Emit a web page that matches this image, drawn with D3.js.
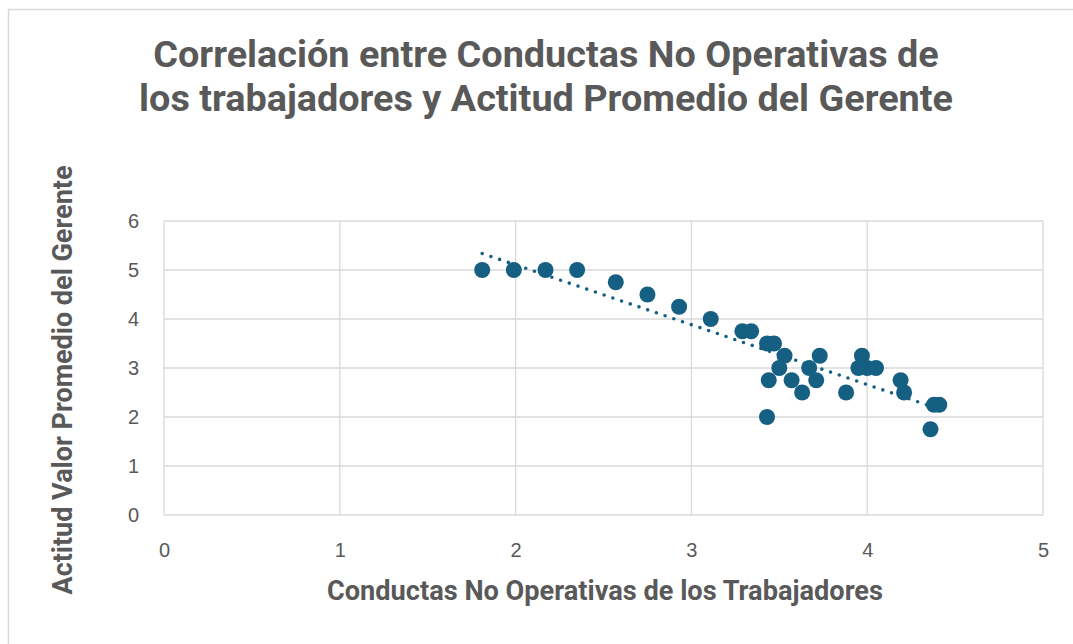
<!DOCTYPE html>
<html><head><meta charset="utf-8">
<script src="https://cdn.jsdelivr.net/npm/d3@7"></script>
<style>html,body{margin:0;padding:0;background:#fff;overflow:hidden}</style>
</head><body>
<svg id="c" width="1073" height="644"></svg>
<script>
const titleLines = ["Correlación entre Conductas No Operativas de", "los trabajadores y Actitud Promedio del Gerente"];
const xTitle = "Conductas No Operativas de los Trabajadores";
const yTitle = "Actitud Valor Promedio del Gerente";
const xTicks = [0,1,2,3,4,5];
const yTicks = [0,1,2,3,4,5,6];
const conductas = [1.81,1.99,2.17,2.35,2.57,2.75,2.93,3.11,3.29,3.34,3.43,3.47,3.53,3.73,3.50,3.67,3.44,3.57,3.71,3.63,3.88,3.43,3.97,3.95,4.00,4.05,4.19,4.21,4.38,4.41,4.36];
const actitud   = [5,5,5,5,4.75,4.5,4.25,4.0,3.75,3.75,3.5,3.5,3.25,3.25,3.0,3.0,2.75,2.75,2.75,2.5,2.5,2.0,3.25,3.0,3.0,3.0,2.75,2.5,2.25,2.25,1.75];

const svg = d3.select("#c");
const col = "#156082", txt = "#595959", grid = "#d9d9d9";
const L = 164, R = 1043, T = 221, B = 515;
const x = d3.scaleLinear().domain([0,5]).range([L,R]);
const y = d3.scaleLinear().domain([0,6]).range([B,T]);

svg.append("rect").attr("x",8.5).attr("y",9.5).attr("width",1200).attr("height",800)
  .attr("fill","#fff").attr("stroke",grid).attr("stroke-width",1.5);

// gridlines
svg.append("g").selectAll("line.h").data(yTicks).join("line")
  .attr("x1",L).attr("x2",R).attr("y1",d=>y(d)).attr("y2",d=>y(d))
  .attr("stroke",grid).attr("stroke-width",1.3);
svg.append("g").selectAll("line.v").data(xTicks).join("line")
  .attr("y1",T).attr("y2",B).attr("x1",d=>x(d)).attr("x2",d=>x(d))
  .attr("stroke",grid).attr("stroke-width",1.3);

// axes labels via d3 axes
const gx = svg.append("g").attr("transform",`translate(0,${B})`)
  .call(d3.axisBottom(x).tickValues(xTicks).tickSize(0).tickPadding(28).tickFormat(d3.format("d")));
const gy = svg.append("g").attr("transform",`translate(${L},0)`)
  .call(d3.axisLeft(y).tickValues(yTicks).tickSize(0).tickPadding(25).tickFormat(d3.format("d")));
[gx,gy].forEach(g=>{
  g.select(".domain").remove();
  g.selectAll("text").attr("fill",txt).style("font-family","'Liberation Sans',Arial,sans-serif").style("font-size","20px");
});

// trendline (least squares)
const n = conductas.length;
const mx = d3.mean(conductas), my = d3.mean(actitud);
let sxy=0,sxx=0;
for(let i=0;i<n;i++){sxy+=(conductas[i]-mx)*(actitud[i]-my);sxx+=(conductas[i]-mx)**2;}
const slope = sxy/sxx, icpt = my - slope*mx;
const [x0,x1] = d3.extent(conductas);
svg.append("line").attr("x1",x(x0)).attr("y1",y(icpt+slope*x0)).attr("x2",x(x1)).attr("y2",y(icpt+slope*x1))
  .attr("stroke",col).attr("stroke-width",3.6).attr("stroke-linecap","round").attr("stroke-dasharray","0 9.2");

// points
svg.append("g").selectAll("circle").data(conductas).join("circle")
  .attr("cx",d=>x(d)).attr("cy",(d,i)=>y(actitud[i])).attr("r",8).attr("fill",col);

// text helper fitting width
function fitText(sel, target){
  let fs = parseFloat(sel.style("font-size"));
  const w = sel.node().getComputedTextLength();
  sel.style("font-size", (fs*target/w).toFixed(2)+"px");
}
const bold = "Roboto, 'Liberation Sans', sans-serif";
const t1 = svg.append("text").attr("x",546).attr("y",67).attr("text-anchor","middle").attr("fill",txt)
  .style("font-family",bold).style("font-weight","700").style("font-size","31px").text(titleLines[0]);
const t2 = svg.append("text").attr("x",546).attr("y",111).attr("text-anchor","middle").attr("fill",txt)
  .style("font-family",bold).style("font-weight","700").style("font-size","31px").text(titleLines[1]);
fitText(t2, 814);
t1.style("font-size", t2.style("font-size"));

const xt = svg.append("text").attr("x",605).attr("y",600).attr("text-anchor","middle").attr("fill",txt)
  .style("font-family",bold).style("font-weight","700").style("font-size","22px").text(xTitle);
fitText(xt, 556);
const yt = svg.append("text").attr("transform","translate(72,380) rotate(-90)").attr("text-anchor","middle").attr("fill",txt)
  .style("font-family",bold).style("font-weight","700").style("font-size","22px").text(yTitle);
fitText(yt, 429);
</script>
</body></html>
